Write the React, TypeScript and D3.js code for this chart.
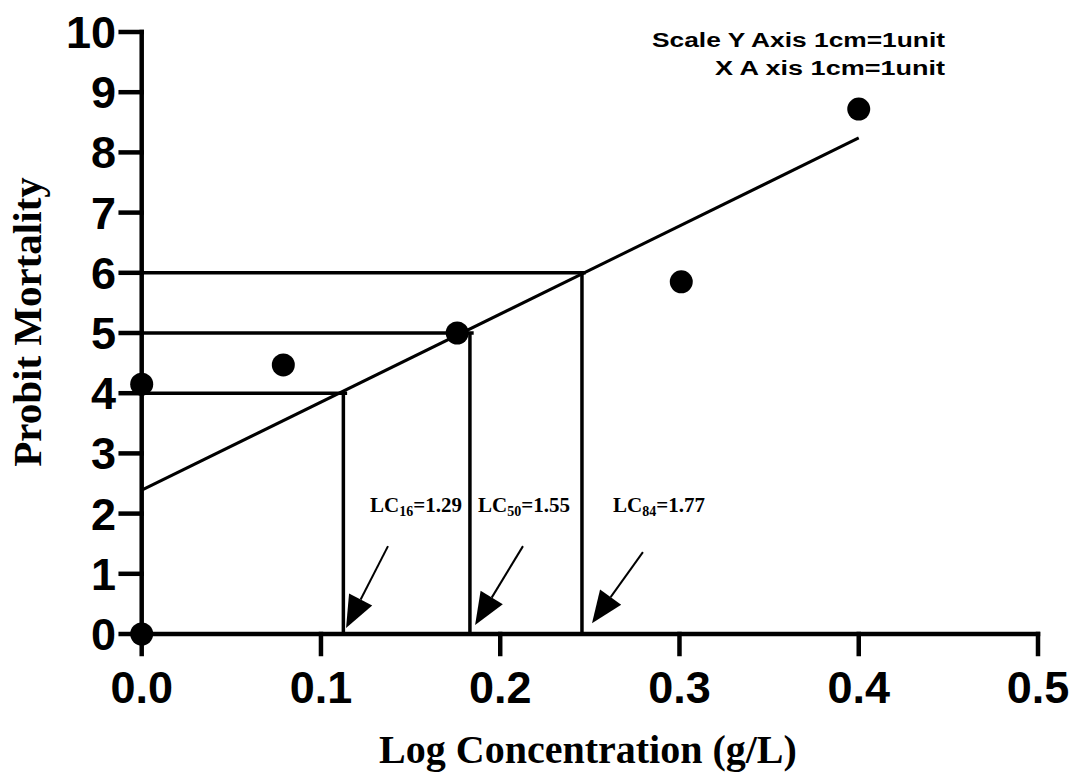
import React from "react";
import * as d3 from "d3";

// tick values
const xTicks = [0, 0.1, 0.2, 0.3, 0.4, 0.5];
const xTickLabels = ["0.0", "0.1", "0.2", "0.3", "0.4", "0.5"];
const yTicks = [0, 1, 2, 3, 4, 5, 6, 7, 8, 9, 10];

// observed points (log conc, probit)
const pointX = [0, 0, 0.079, 0.176, 0.301, 0.4];
const pointY = [0, 4.15, 4.47, 5.0, 5.85, 8.72];

// fitted line ends
const fitX = [0, 0.4];
const fitY = [2.39, 8.24];

// LC read-offs
const lcLevel = [4, 5, 6];
const lcX = [0.1125, 0.1831, 0.2456];
const lcSub = ["16", "50", "84"];
const lcValue = ["1.29", "1.55", "1.77"];
const lcLabelX = [0.1274, 0.1876, 0.2629];
const lcLabelY = 2.03;

// arrows (data units): start -> tip
const arrowFromX = [0.1374, 0.2127, 0.2796];
const arrowFromY = [1.46, 1.46, 1.36];
const arrowToX = [0.114, 0.186, 0.2512];
const arrowToY = [0.1, 0.15, 0.18];

const W = 1073;
const H = 775;

const sans = "'Liberation Sans', Arial, sans-serif";
const serif = "'Liberation Serif', 'Times New Roman', serif";

const App = () => {
  const x = d3.scaleLinear().domain([0, 0.5]).range([141.7, 1038]);
  const y = d3.scaleLinear().domain([0, 10]).range([634, 32]);
  const fit = d3
    .line<number>()
    .x((d) => x(d))
    .y((d, i) => y(fitY[i]));

  const arrowHead = (i: number) => {
    const x1 = x(arrowFromX[i]);
    const y1 = y(arrowFromY[i]);
    const x2 = x(arrowToX[i]);
    const y2 = y(arrowToY[i]);
    const len = Math.hypot(x2 - x1, y2 - y1);
    const ux = (x2 - x1) / len;
    const uy = (y2 - y1) / len;
    const hl = 32;
    const hw = 13;
    const bx = x2 - ux * hl;
    const by = y2 - uy * hl;
    const pts = [
      [x2, y2],
      [bx - uy * hw, by + ux * hw],
      [bx + uy * hw, by - ux * hw],
    ];
    return {
      line: [x1, y1, bx, by],
      poly: pts.map((p) => p.join(",")).join(" "),
    };
  };

  return (
    <svg
      width={W}
      height={H}
      style={{ position: "absolute", left: 0, top: 0, background: "#fff" }}
    >
      {/* drop lines */}
      {lcLevel.map((lv, i) => (
        <g key={"lc" + i} stroke="#000" strokeWidth={3.5} fill="none">
          <line x1={x(0)} x2={x(lcX[i]) + 2} y1={y(lv)} y2={y(lv)} strokeLinecap="square" />
          <line x1={x(lcX[i])} x2={x(lcX[i])} y1={y(lv)} y2={y(0)} />
        </g>
      ))}

      {/* fitted line */}
      <path d={fit(fitX) || ""} stroke="#000" strokeWidth={3} fill="none" />

      {/* axes */}
      <g stroke="#000" strokeWidth={4.5} strokeLinecap="square">
        <line x1={x(0)} x2={x(0)} y1={y(0)} y2={y(10)} />
        <line x1={x(0)} x2={x(0.5)} y1={y(0)} y2={y(0)} />
        {yTicks.map((t) => (
          <line key={"yt" + t} x1={x(0) - 21} x2={x(0)} y1={y(t)} y2={y(t)} />
        ))}
        {xTicks.map((t) => (
          <line key={"xt" + t} x1={x(t)} x2={x(t)} y1={y(0)} y2={y(0) + 20} />
        ))}
      </g>

      {/* tick labels */}
      <g fontFamily={sans} fontWeight="bold" fontSize={45} fill="#000">
        {yTicks.map((t) => (
          <text key={"yl" + t} x={116} y={y(t) + 16} textAnchor="end">
            {t}
          </text>
        ))}
        {xTicks.map((t, i) => (
          <text key={"xl" + t} x={x(t)} y={703} textAnchor="middle">
            {xTickLabels[i]}
          </text>
        ))}
      </g>

      {/* points */}
      {pointX.map((px, i) => (
        <circle key={"p" + i} cx={x(px)} cy={y(pointY[i])} r={11.5} fill="#000" />
      ))}

      {/* arrows */}
      {lcLevel.map((_, i) => {
        const a = arrowHead(i);
        return (
          <g key={"ar" + i}>
            <line
              x1={a.line[0]}
              y1={a.line[1]}
              x2={a.line[2]}
              y2={a.line[3]}
              stroke="#000"
              strokeWidth={2}
            />
            <polygon points={a.poly} fill="#000" />
          </g>
        );
      })}

      {/* LC labels */}
      {lcSub.map((s, i) => (
        <text
          key={"lt" + i}
          x={x(lcLabelX[i])}
          y={y(lcLabelY)}
          fontFamily={serif}
          fontWeight="bold"
          fontSize={21}
          fill="#000"
        >
          LC
          <tspan fontSize={14} dy={4}>
            {s}
          </tspan>
          <tspan dy={-4}>={lcValue[i]}</tspan>
        </text>
      ))}

      {/* scale note */}
      <g fontFamily={sans} fontWeight="bold" fontSize={19.5} fill="#000" textAnchor="end">
        <text x={945} y={46.5} textLength={293} lengthAdjust="spacingAndGlyphs">
          Scale Y Axis 1cm=1unit
        </text>
        <text x={945} y={75} textLength={230} lengthAdjust="spacingAndGlyphs">
          X A xis 1cm=1unit
        </text>
      </g>

      {/* axis titles */}
      <text
        x={588}
        y={763}
        textAnchor="middle"
        fontFamily={serif}
        fontWeight="bold"
        fontSize={40}
        fill="#000"
      >
        Log Concentration (g/L)
      </text>
      <text
        transform={`translate(41,322) rotate(-90)`}
        textAnchor="middle"
        fontFamily={serif}
        fontWeight="bold"
        fontSize={41}
        fill="#000"
      >
        Probit Mortality
      </text>
    </svg>
  );
};

export default App;
